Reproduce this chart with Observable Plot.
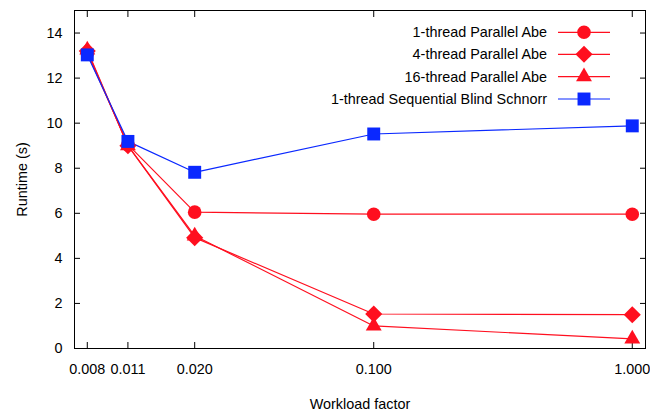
<!DOCTYPE html>
<html>
<head>
<meta charset="utf-8">
<script src="https://cdn.jsdelivr.net/npm/d3@7"></script>
<script src="https://cdn.jsdelivr.net/npm/@observablehq/plot@0.6"></script>
<style>
  html, body { margin: 0; padding: 0; background: #fff; }
  #chart { width: 650px; height: 415px; }
</style>
</head>
<body>
<div id="chart"></div>
<script>
// Workload factors (x) and tick labels
const workload = [0.0078, 0.0112, 0.0203, 0.1, 1];
const xTicks = [0.0078, 0.0112, 0.0203, 0.1, 1];
const yTicks = [0, 2, 4, 6, 8, 10, 12, 14];

// Runtimes (s)
const abe1 = [13.1, 9.05, 6.05, 5.96, 5.96];
const abe4 = [13.2, 9.0, 4.92, 1.53, 1.5];
const abe16 = [13.25, 9.0, 5.0, 1.0, 0.43];
const schnorr = [13.03, 9.19, 7.82, 9.52, 9.88];

const seriesNames = ["1-thread Parallel Abe", "4-thread Parallel Abe", "16-thread Parallel Abe", "1-thread Sequential Blind Schnorr"];
const seriesValues = [abe1, abe4, abe16, schnorr];

const RED = "#ff0f1f", BLUE = "#0a28ff";
const styles = [
  {color: RED, symbol: "circle", r: 6.8},
  {color: RED, symbol: "diamond2", r: 7.7},
  {color: RED, symbol: "triangle", r: 5.9},
  {color: BLUE, symbol: "square", r: 7.3}
];

const rows = [];
seriesNames.forEach((name, i) => {
  workload.forEach((x, j) => rows.push({series: name, x, y: seriesValues[i][j]}));
});

const fontFamily = "'Liberation Sans', Arial, Helvetica, sans-serif";
const fmtX = d => d3.format(".3f")(d);

const marks = [
  Plot.frame({stroke: "#000", strokeWidth: 1}),
  // tick labels
  Plot.axisX(xTicks, {anchor: "bottom", tickSize: 0, tickPadding: 15, text: d => fmtX(d),
    label: "Workload factor", labelAnchor: "center", labelOffset: 60, labelArrow: "none"}),
  Plot.axisY(yTicks, {anchor: "left", tickSize: 0, tickPadding: 12,
    label: "Runtime (s)", labelAnchor: "center", labelOffset: 58, labelArrow: "none"}),
  // inward ticks on all four sides
  Plot.axisX(xTicks, {anchor: "bottom", tickSize: 6, dy: -6, text: () => "", label: null}),
  Plot.axisX(xTicks, {anchor: "top", tickSize: 6, dy: 6, text: () => "", label: null}),
  Plot.axisY(yTicks, {anchor: "left", tickSize: 6, dx: 6, tickFormat: () => "", label: null}),
  Plot.axisY(yTicks, {anchor: "right", tickSize: 6, dx: -6, tickFormat: () => "", label: null})
];

seriesNames.forEach((name, i) => {
  const data = rows.filter(d => d.series === name);
  const s = styles[i];
  marks.push(Plot.line(data, {x: "x", y: "y", stroke: s.color, strokeWidth: 1.2}));
});
seriesNames.forEach((name, i) => {
  const data = rows.filter(d => d.series === name);
  const s = styles[i];
  marks.push(Plot.dot(data, {x: "x", y: "y", fill: s.color, stroke: "none", symbol: s.symbol, r: s.r}));
});

const chart = Plot.plot({
  width: 650,
  height: 415,
  marginLeft: 74,
  marginRight: 5,
  marginTop: 10,
  marginBottom: 67,
  style: {fontFamily, fontSize: "14.4px", color: "#000", background: "#fff", overflow: "visible"},
  x: {type: "log", domain: [0.00696, 1.125]},
  y: {domain: [0, 15]},
  marks
});

document.getElementById("chart").appendChild(chart);

// Legend inside the plot area (top right)
const svg = d3.select(chart);
const legend = svg.append("g").attr("font-family", fontFamily).attr("font-size", 14.4);
const symbolMap = {circle: d3.symbolCircle, diamond2: d3.symbolDiamond2, triangle: d3.symbolTriangle, square: d3.symbolSquare};
const rowY = [32.3, 54.3, 76.6, 99];
seriesNames.forEach((name, i) => {
  const s = styles[i];
  const y = rowY[i];
  legend.append("text").attr("x", 547).attr("y", y).attr("dy", "0.35em")
    .attr("text-anchor", "end").attr("fill", "#000").text(name);
  legend.append("line").attr("x1", 558).attr("x2", 610).attr("y1", y).attr("y2", y)
    .attr("stroke", s.color).attr("stroke-width", 1.2);
  legend.append("path").attr("transform", `translate(584,${y})`)
    .attr("d", d3.symbol(symbolMap[s.symbol], Math.PI * s.r * s.r)())
    .attr("fill", s.color);
});
</script>
</body>
</html>
